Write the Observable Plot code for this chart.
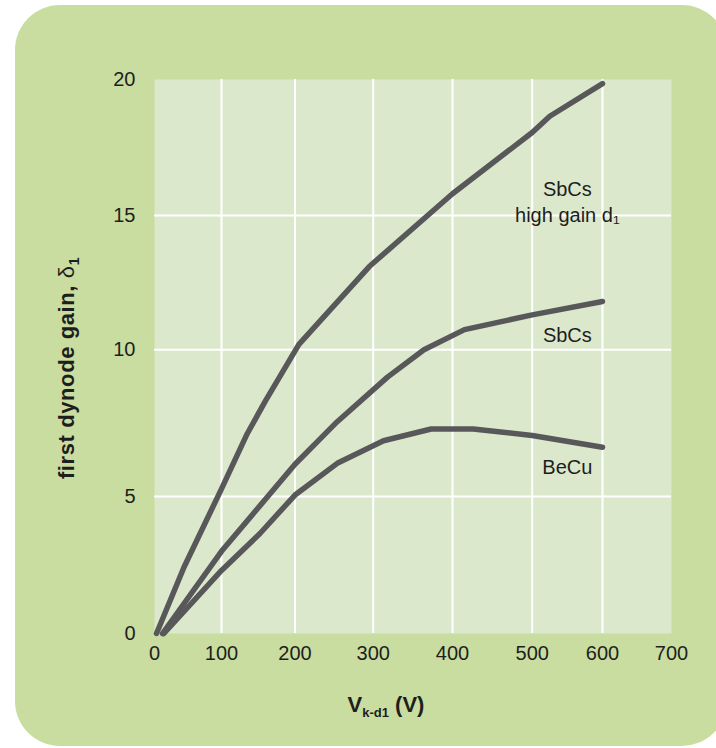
<!DOCTYPE html>
<html><head><meta charset="utf-8">
<script src="https://cdn.jsdelivr.net/npm/d3@7"></script>
<script src="https://cdn.jsdelivr.net/npm/@observablehq/plot@0.6"></script>
<style>
html,body{margin:0;padding:0;background:#fff;}
#wrap{position:relative;width:716px;height:748px;overflow:hidden;}
#panel{position:absolute;left:15px;top:5px;width:712px;height:741px;border-radius:45px;background:#c8dd9f;}
#chart{position:absolute;left:0;top:0;}
</style></head><body>
<div id="wrap"><div id="panel"></div><div id="chart"></div></div>
<script>
// Data (first dynode gain vs cathode–d1 voltage)
const voltsHigh = [3, 44, 100, 135, 160, 205, 295, 400, 500, 525, 600];
const gainHigh  = [0, 2.42, 5.26, 7.14, 8.27, 10.2, 13.1, 15.8, 18.05, 18.65, 19.85];
const voltsSbCs = [12, 100, 200, 254, 318, 364, 415, 500, 600];
const gainSbCs  = [0, 3.0, 6.1, 7.55, 9.07, 10.0, 10.75, 11.3, 11.8];
const voltsBeCu = [14, 100, 152, 200, 254, 313, 373, 426, 500, 600];
const gainBeCu  = [0, 2.3, 3.64, 5.05, 6.13, 6.9, 7.3, 7.3, 7.08, 6.68];

const xTicks = [0, 100, 200, 300, 400, 500, 600, 700];
const yTicks = [0, 5, 10, 15, 20];
const xGrid = [100, 200, 300, 400, 500, 600];
const yGrid = [5, 10, 15];

const labelText = ["SbCs", "high gain d\u2081", "SbCs", "BeCu"];
const labelX = [550, 550, 550, 550];
const labelY = [15.95, 15.0, 10.53, 6.0];

const rows = [
  ...voltsHigh.map((v, i) => ({series: "high", v, g: gainHigh[i]})),
  ...voltsSbCs.map((v, i) => ({series: "sbcs", v, g: gainSbCs[i]})),
  ...voltsBeCu.map((v, i) => ({series: "becu", v, g: gainBeCu[i]}))
];
const labels = labelText.map((t, i) => ({t, x: labelX[i], y: labelY[i]}));

const font = "'Liberation Sans', Arial, Helvetica, sans-serif";
const ink = "#1e1e1e";

// the original figure's grid is slightly uneven; follow it with piecewise interpolators
const xPiece = d3.piecewise(d3.interpolateNumber, [154, 221, 294.5, 372.7, 452, 531.7, 602, 671]);
const yPiece = d3.piecewise(d3.interpolateNumber, [633, 496, 349.3, 215, 79]);

const chart = Plot.plot({
  width: 716, height: 748,
  marginLeft: 154, marginRight: 45, marginTop: 79, marginBottom: 115,
  style: {background: "transparent", fontFamily: font, fontSize: "20px", color: ink},
  x: {type: "linear", domain: [0, 700], interpolate: (t) => xPiece(Math.max(0, Math.min(1, t)))},
  y: {type: "linear", domain: [0, 20], interpolate: (t) => yPiece(Math.max(0, Math.min(1, t)))},
  marks: [
    Plot.frame({fill: "#dce8cc", stroke: null}),
    Plot.gridX(xGrid, {stroke: "#ffffff", strokeOpacity: 1, strokeWidth: 2}),
    Plot.gridY(yGrid, {stroke: "#ffffff", strokeOpacity: 1, strokeWidth: 2}),
    Plot.axisX(xTicks, {tickSize: 0, tickPadding: 12, fontSize: 20, fill: ink, label: null}),
    Plot.axisY(yTicks, {tickSize: 0, tickPadding: 19, fontSize: 20, fill: ink, label: null}),
    Plot.line(rows, {x: "v", y: "g", z: "series", stroke: "#58585a", strokeWidth: 5.5, strokeLinejoin: "round"}),
    Plot.text(labels, {x: "x", y: "y", text: "t", fontSize: 20, fill: ink})
  ]
});
document.getElementById("chart").appendChild(chart);

const svg = d3.select(chart);
// x-axis label: V_{k-d1} (V)
const xl = svg.append("text")
  .attr("x", 386).attr("y", 712)
  .attr("text-anchor", "middle")
  .attr("font-family", font).attr("font-weight", "bold").attr("font-size", 22).attr("fill", ink);
xl.append("tspan").text("V");
xl.append("tspan").attr("font-size", 13).attr("dy", 5).text("k-d1");
xl.append("tspan").attr("dy", -5).text(" (V)");

// y-axis label: first dynode gain, δ1
const yl = svg.append("text")
  .attr("transform", "translate(74,368) rotate(-90)")
  .attr("text-anchor", "middle")
  .attr("font-family", font).attr("font-weight", "bold").attr("font-size", 22)
  .attr("letter-spacing", 0.6).attr("fill", ink);
yl.append("tspan").text("first dynode gain, ");
yl.append("tspan").attr("font-weight", "normal").text("\u03b4");
yl.append("tspan").attr("font-size", 14).attr("dy", 5).text("1");
</script>
</body></html>
